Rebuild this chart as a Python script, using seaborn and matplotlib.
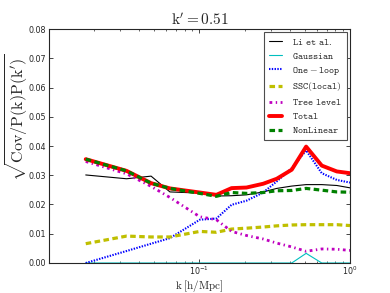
import numpy as np
import pandas as pd
import matplotlib
matplotlib.use("Agg")
import matplotlib.pyplot as plt
import seaborn as sns

# k grid [h/Mpc]
k = [0.0177, 0.033, 0.048, 0.064, 0.101, 0.130, 0.164, 0.206,
     0.266, 0.327, 0.411, 0.512, 0.650, 0.818, 1.0]

li_et_al = [0.0301, 0.0288, 0.0297, 0.0243, 0.0239, 0.0229, 0.0230, 0.0233,
            0.0243, 0.0255, 0.0263, 0.0268, 0.0268, 0.0265, 0.0257]
gaussian = [0.0, 0.0, 0.0, 0.0, 0.0, 0.0, 0.0, 0.0,
            0.0, 0.0, 0.0, 0.0033, 0.0, 0.0, 0.0]
one_loop = [0.0, 0.0041, 0.0066, 0.0085, 0.0148, 0.0152, 0.0199, 0.0213,
            0.0241, 0.0279, 0.0324, 0.0385, 0.0307, 0.0284, 0.0275]
ssc_local = [0.0066, 0.0092, 0.0089, 0.0089, 0.0108, 0.0105, 0.0116, 0.0119,
             0.0123, 0.0127, 0.0130, 0.0131, 0.0131, 0.0131, 0.0128]
tree_level = [0.0347, 0.0305, 0.0262, 0.0224, 0.0158, 0.0148, 0.0108, 0.0094,
              0.0082, 0.0068, 0.0055, 0.0040, 0.0048, 0.0047, 0.0043]
total = [0.0355, 0.0315, 0.0273, 0.0255, 0.0241, 0.0233, 0.0256, 0.0258,
         0.0271, 0.0288, 0.0319, 0.0398, 0.0333, 0.0313, 0.0307]
nonlinear = [0.0355, 0.0315, 0.0273, 0.0255, 0.0238, 0.0228, 0.0241, 0.0238,
             0.0241, 0.0247, 0.0248, 0.0255, 0.0249, 0.0243, 0.0242]

sns.set_style("ticks")
plt.rcParams["mathtext.fontset"] = "cm"
plt.rcParams["font.family"] = ["DejaVu Sans"]
plt.rcParams["xtick.direction"] = "in"
plt.rcParams["ytick.direction"] = "in"
plt.rcParams["xtick.top"] = True
plt.rcParams["ytick.right"] = True
# old-style dashes, not scaled with line width
plt.rcParams["lines.scale_dashes"] = False
plt.rcParams["lines.dashed_pattern"] = [4, 2.5]
plt.rcParams["lines.dashdot_pattern"] = [2, 2.5, 1, 2.5]
plt.rcParams["lines.dotted_pattern"] = [1, 1]

fig = plt.figure(figsize=(3.9, 2.93), dpi=100)
ax = fig.add_axes([0.1256, 0.1024, 0.7718, 0.7986])

series = [
    (li_et_al, r"$\mathtt{Li\ et\ al.}$", "k", "-", 0.8),
    (gaussian, r"$\mathtt{Gaussian}$", "c", "-", 0.8),
    (one_loop, r"$\mathtt{One-loop}$", "b", ":", 1.5),
    (ssc_local, r"$\mathtt{SSC(local)}$", "y", "--", 2.3),
    (tree_level, r"$\mathtt{Tree\ level}$", "m", "-.", 2.0),
    (total, r"$\mathtt{Total}$", "r", "-", 2.8),
    (nonlinear, r"$\mathtt{NonLinear}$", "g", "--", 2.3),
]
for vals, lab, col, ls, lw in series:
    df = pd.DataFrame({"k": k, "v": vals})
    sns.lineplot(data=df, x="k", y="v", ax=ax, color=col, linestyle=ls,
                 linewidth=lw, label=lab)

ax.set_xscale("log")
ax.set_xlim(0.0101, 1.0)
ax.set_ylim(0, 0.08)
ax.set_yticks(np.arange(0, 0.081, 0.01))
ax.set_yticklabels([f"{v:.2f}" for v in np.arange(0, 0.081, 0.01)])
ax.tick_params(labelsize=5.8, length=3, width=0.6, pad=2)
ax.tick_params(axis="x", pad=1.5)
ax.tick_params(which="minor", length=1.5, width=0.5)
for s in ax.spines.values():
    s.set_linewidth(0.8)

ax.set_title(r"$\mathrm{k'=0.51}$", fontsize=11, pad=3)
ax.set_xlabel(r"$\mathrm{k\;[h/Mpc]}$", fontsize=8)
ax.xaxis.set_label_coords(0.5, -0.062)
ax.set_ylabel(r"$\sqrt{\mathrm{Cov/P(k)P(k')}}$", fontsize=11.5)
ax.yaxis.set_label_coords(-0.064, 0.62)

leg = ax.legend(loc="upper right", fontsize=7, fancybox=False, framealpha=1,
                handlelength=1.4, borderpad=0.5, labelspacing=0.4,
                handletextpad=1.0, borderaxespad=0.3)
leg.get_frame().set_edgecolor("0.3")
leg.get_frame().set_linewidth(0.8)

fig.savefig("out.png", dpi=100)
